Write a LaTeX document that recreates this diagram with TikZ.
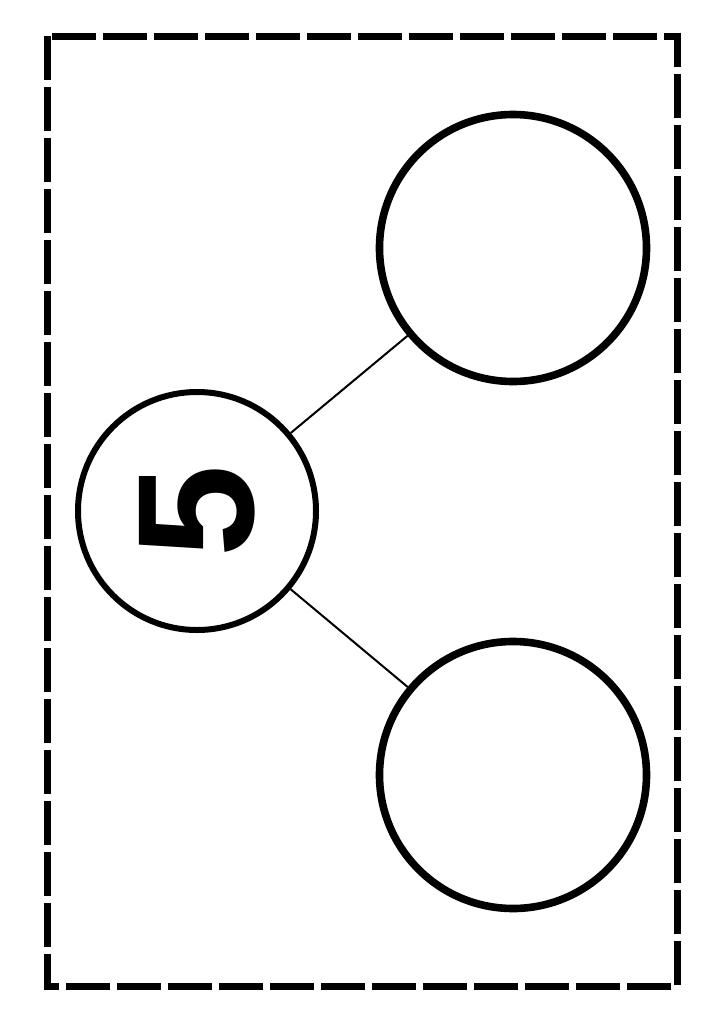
\documentclass[tikz,border=0pt]{standalone}
\usepackage{fontspec}
\setmainfont{Liberation Sans}
\usepackage{tikz}
\usetikzlibrary{shapes}
\usetikzlibrary{positioning}
\tikzstyle{cadre}=[line width=0.175cm,dash pattern=on 1.1cm off 0.175cm]
\tikzstyle{total}=[circle,draw,line width=0.15cm,minimum size=5.95cm,inner sep=0pt,
font=\fontsize{118}{118}\selectfont\bfseries]
\tikzstyle{partie}=[circle,draw,line width=0.19cm,minimum size=6.675cm,inner sep=0pt]
\tikzstyle{lien}=[line width=0.05cm]
\begin{document}
\begin{tikzpicture}
\useasboundingbox (0,0) rectangle (18.1,-25.6);
\draw[cadre] (1.175,-0.9) rectangle (16.925,-24.65);
\node[total,rotate=90] (a) at (4.925,-12.775) {5};
\node[partie] (b) at (12.825,-6.2) {};
\node[partie] (c) at (12.825,-19.375) {};
%Placement des liens
\draw[lien] (a) -- (b);
\draw[lien] (a) -- (c);
\end{tikzpicture}
\end{document}
